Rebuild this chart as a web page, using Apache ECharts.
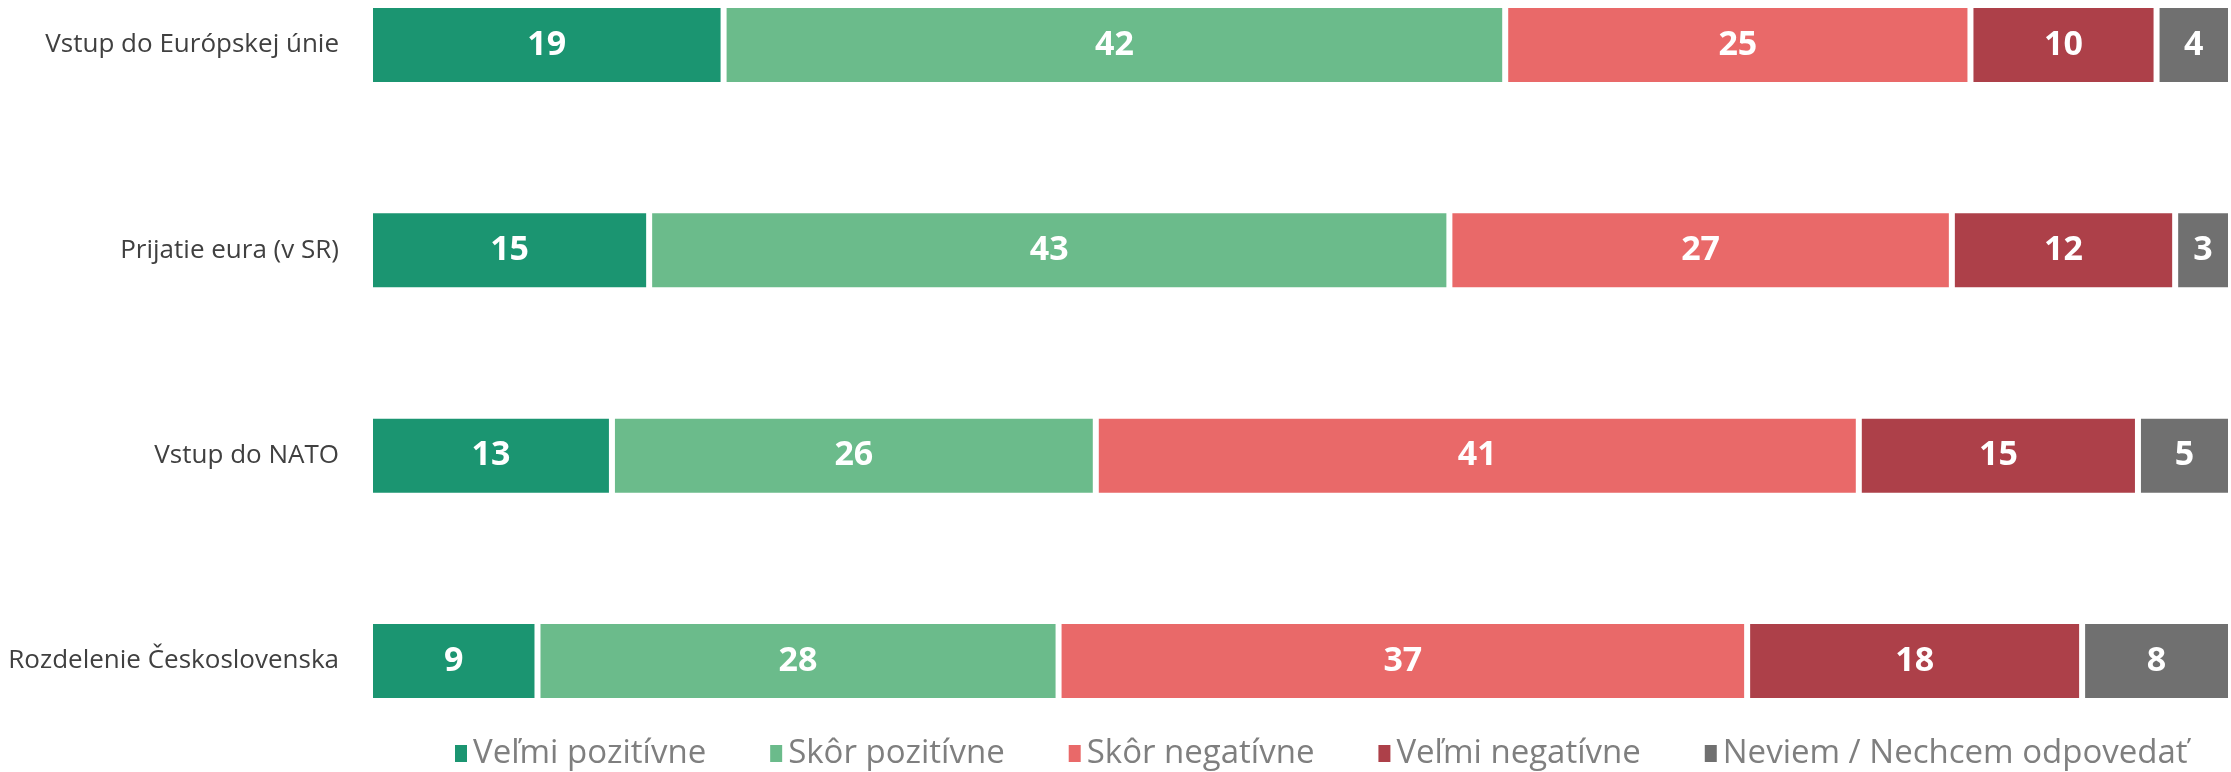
<!DOCTYPE html>
<html>
<head>
<meta charset="utf-8">
<script src="https://cdn.jsdelivr.net/npm/echarts@6/dist/echarts.min.js"></script>
<style>
  html, body { margin: 0; padding: 0; background: #fff; }
  #chart { width: 2231px; height: 772px; }
</style>
</head>
<body>
<div id="chart"></div>
<script>
const categories = ['Vstup do Európskej únie', 'Prijatie eura (v SR)', 'Vstup do NATO', 'Rozdelenie Československa'];
const seriesNames = ['Veľmi pozitívne', 'Skôr pozitívne', 'Skôr negatívne', 'Veľmi negatívne', 'Neviem / Nechcem odpovedať'];
const velmiPozitivne = [19, 15, 13, 9];
const skorPozitivne = [42, 43, 26, 28];
const skorNegativne = [25, 27, 41, 37];
const velmiNegativne = [10, 12, 15, 18];
const neviem = [4, 3, 5, 8];
const colors = ['#1b9571', '#6bbb8b', '#e96969', '#ad4049', '#707070'];

const values = [velmiPozitivne, skorPozitivne, skorNegativne, velmiNegativne, neviem];

const chart = echarts.init(document.getElementById('chart'), null, { renderer: 'canvas' });

const series = values.map(function (data, i) {
  return {
    name: seriesNames[i],
    type: 'bar',
    stack: 'total',
    barWidth: 80,
    data: data,
    itemStyle: {
      color: colors[i],
      borderColor: '#ffffff',
      borderWidth: 3
    },
    label: {
      show: true,
      position: 'inside',
      color: '#ffffff',
      fontFamily: 'Open Sans',
      fontWeight: 'bold',
      fontSize: 34
    }
  };
});

chart.setOption({
  animation: false,
  color: colors,
  grid: { left: 370, right: 0, top: 45, bottom: 111, outerBoundsMode: 'none', containLabel: false },
  xAxis: {
    type: 'value',
    min: 0,
    max: 100,
    show: false
  },
  yAxis: {
    type: 'category',
    data: categories,
    inverse: true,
    boundaryGap: false,
    axisLine: { show: false },
    axisTick: { show: false },
    splitLine: { show: false },
    axisLabel: {
      color: '#404040',
      fontFamily: 'Open Sans',
      fontSize: 26,
      margin: 31
    }
  },
  legend: {
    data: seriesNames,
    left: 448,
    top: 732,
    icon: 'rect',
    itemWidth: 14,
    itemHeight: 19,
    itemGap: 62,
    textStyle: {
      color: '#7f7f7f',
      fontFamily: 'Open Sans',
      fontSize: 33
    }
  },
  series: series
});
</script>
</body>
</html>
